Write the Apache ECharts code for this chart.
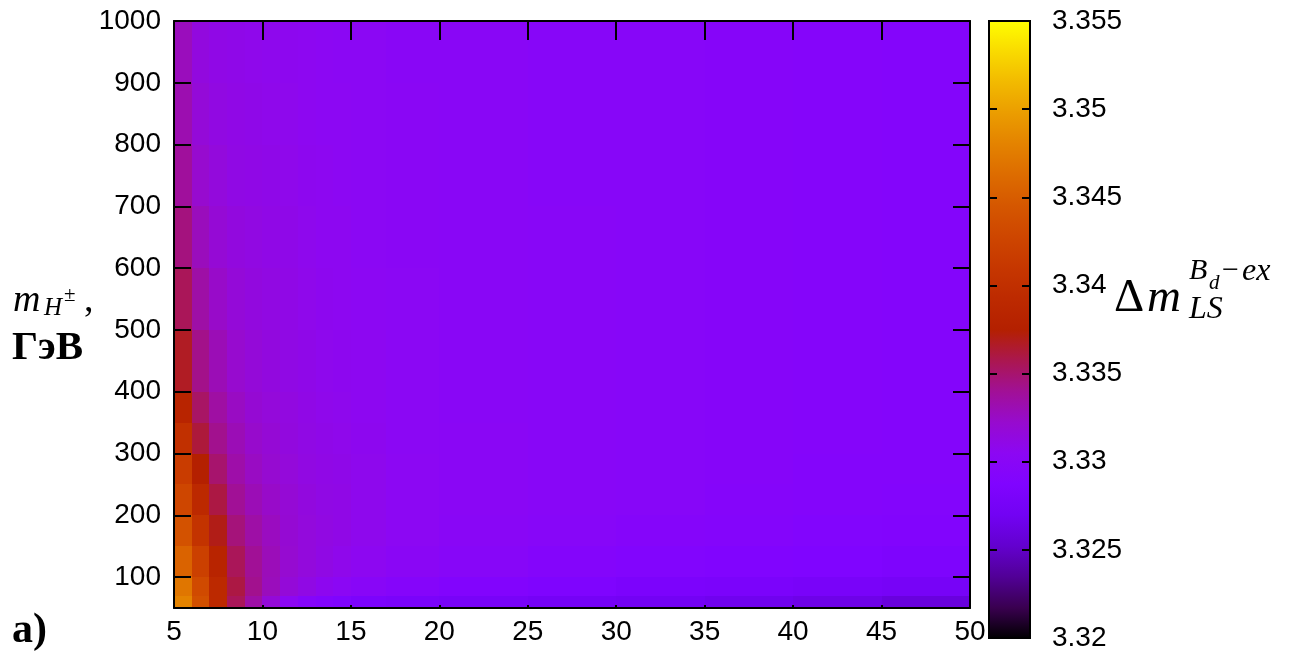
<!DOCTYPE html>
<html><head><meta charset="utf-8">
<script src="https://cdn.jsdelivr.net/npm/echarts@6/dist/echarts.min.js"></script>
<style>html,body{margin:0;padding:0;background:#fff}#c{width:1308px;height:656px}</style>
</head><body><div id="c"></div><script>
// cell edges (tan beta along x, charged Higgs mass along y)
const xEdges = [5,6,7,8,9,10,11,12,13,14,15,17,20,25,30,35,40,45,50];
const yEdges = [50,70,100,150,200,250,300,350,400,500,600,700,800,900,1000];
// one array per mass band (bottom to top), one value per x band
const row0050 = [3.3480,3.3438,3.3390,3.3355,3.3335,3.3318,3.3305,3.3295,3.3290,3.3286,3.3283,3.3280,3.3277,3.3274,3.3271,3.3268,3.3265,3.3260];
const row0070 = [3.3470,3.3432,3.3390,3.3360,3.3342,3.3328,3.3318,3.3312,3.3307,3.3303,3.3299,3.3295,3.3290,3.3286,3.3283,3.3281,3.3279,3.3276];
const row0100 = [3.3455,3.3420,3.3382,3.3355,3.3340,3.3329,3.3321,3.3316,3.3312,3.3309,3.3306,3.3302,3.3298,3.3294,3.3291,3.3289,3.3287,3.3285];
const row0150 = [3.3440,3.3405,3.3370,3.3347,3.3335,3.3327,3.3320,3.3316,3.3313,3.3311,3.3308,3.3305,3.3301,3.3298,3.3295,3.3293,3.3291,3.3290];
const row0200 = [3.3428,3.3390,3.3360,3.3340,3.3330,3.3324,3.3319,3.3315,3.3312,3.3311,3.3308,3.3305,3.3302,3.3299,3.3297,3.3295,3.3293,3.3292];
const row0250 = [3.3416,3.3375,3.3350,3.3334,3.3326,3.3321,3.3317,3.3313,3.3311,3.3310,3.3308,3.3305,3.3302,3.3299,3.3297,3.3296,3.3294,3.3293];
const row0300 = [3.3400,3.3362,3.3342,3.3330,3.3323,3.3319,3.3315,3.3312,3.3310,3.3309,3.3307,3.3304,3.3302,3.3299,3.3297,3.3296,3.3295,3.3294];
const row0350 = [3.3382,3.3352,3.3336,3.3326,3.3320,3.3317,3.3314,3.3311,3.3309,3.3308,3.3306,3.3304,3.3301,3.3299,3.3297,3.3296,3.3295,3.3294];
const row0400 = [3.3367,3.3343,3.3330,3.3322,3.3318,3.3315,3.3312,3.3310,3.3308,3.3307,3.3306,3.3303,3.3301,3.3299,3.3297,3.3296,3.3295,3.3294];
const row0500 = [3.3355,3.3335,3.3324,3.3318,3.3315,3.3313,3.3311,3.3309,3.3307,3.3306,3.3305,3.3303,3.3301,3.3299,3.3297,3.3296,3.3295,3.3294];
const row0600 = [3.3346,3.3328,3.3319,3.3315,3.3313,3.3311,3.3310,3.3308,3.3306,3.3306,3.3304,3.3302,3.3300,3.3299,3.3297,3.3296,3.3295,3.3294];
const row0700 = [3.3338,3.3322,3.3316,3.3312,3.3311,3.3310,3.3309,3.3307,3.3306,3.3305,3.3304,3.3302,3.3300,3.3298,3.3297,3.3296,3.3295,3.3294];
const row0800 = [3.3332,3.3318,3.3313,3.3311,3.3310,3.3309,3.3308,3.3306,3.3305,3.3305,3.3303,3.3302,3.3300,3.3298,3.3297,3.3296,3.3295,3.3294];
const row0900 = [3.3328,3.3315,3.3311,3.3310,3.3309,3.3308,3.3307,3.3306,3.3305,3.3304,3.3303,3.3301,3.3300,3.3298,3.3297,3.3296,3.3295,3.3294];
const rows = [row0050,row0070,row0100,row0150,row0200,row0250,row0300,row0350,row0400,row0500,row0600,row0700,row0800,row0900];

const xTicks = [5,10,15,20,25,30,35,40,45,50];
const yTicks = [100,200,300,400,500,600,700,800,900,1000];
const cbTicks = [3.32,3.325,3.33,3.335,3.34,3.345,3.35,3.355];
const cbLabels = ['3.32','3.325','3.33','3.335','3.34','3.345','3.35','3.355'];
const cbMin = 3.32, cbMax = 3.355;
// gnuplot rgbformulae 7,5,15 palette, evenly spaced stops
const palette = ['#000000','#39004F','#510096','#6301CE','#7202F3','#8004FF','#8C07F3','#970BCE','#A11096','#AB174F','#B42000','#BD2A00','#C63700','#CE4600','#D55700','#DD6C00','#E48300','#EB9D00','#F2BA00','#F9DB00','#FFFF00'];

const cells = [];
rows.forEach((r, j) => r.forEach((v, i) => {
  cells.push([xEdges[i], xEdges[i+1], yEdges[j], yEdges[j+1], v]);
}));

const tickFont = {fontSize: 28, color: '#000', fontFamily: 'Liberation Sans'};
const blackLine = {color: '#000', width: 2};

const chart = echarts.init(document.getElementById('c'), null, {renderer: 'canvas'});
chart.setOption({
  animation: false,
  backgroundColor: '#fff',
  grid: [
    {left: 174, top: 21, width: 796, height: 587},
    {left: 989, top: 21, width: 41, height: 617}
  ],
  xAxis: [
    {gridIndex: 0, type: 'value', position: 'bottom', min: 5, max: 50, interval: 5, z: 10,
     axisLine: {lineStyle: blackLine}, axisTick: {inside: true, length: 3, lineStyle: blackLine},
     axisLabel: Object.assign({margin: 10, formatter: v => String(v)}, tickFont), splitLine: {show: false}},
    {gridIndex: 0, type: 'value', position: 'top', min: 5, max: 50, interval: 5, z: 10,
     axisLine: {lineStyle: blackLine}, axisTick: {inside: true, length: 19, lineStyle: blackLine},
     axisLabel: {show: false}, splitLine: {show: false}},
    {gridIndex: 1, type: 'value', min: 0, max: 1, show: false}
  ],
  yAxis: [
    {gridIndex: 0, type: 'value', position: 'left', min: 50, max: 1000, z: 10,
     axisLine: {show: true, lineStyle: blackLine},
     axisTick: {inside: true, length: 17, lineStyle: blackLine, customValues: yTicks},
     axisLabel: Object.assign({margin: 13, customValues: yTicks, formatter: v => String(v)}, tickFont), splitLine: {show: false}},
    {gridIndex: 0, type: 'value', position: 'right', min: 50, max: 1000, z: 10,
     axisLine: {show: true, lineStyle: blackLine},
     axisTick: {inside: true, length: 17, lineStyle: blackLine, customValues: yTicks},
     axisLabel: {show: false}, splitLine: {show: false}},
    {gridIndex: 1, type: 'value', position: 'left', min: cbMin, max: cbMax, z: 10,
     axisLine: {show: false},
     axisTick: {inside: true, length: 8, lineStyle: blackLine, customValues: cbTicks},
     axisLabel: {show: false}, splitLine: {show: false}},
    {gridIndex: 1, type: 'value', position: 'right', min: cbMin, max: cbMax, z: 10,
     axisLine: {show: false},
     axisTick: {inside: true, length: 8, lineStyle: blackLine, customValues: cbTicks},
     axisLabel: Object.assign({margin: 22, customValues: cbTicks,
       formatter: v => { const k = cbTicks.findIndex(t => Math.abs(t - v) < 1e-9); return k >= 0 ? cbLabels[k] : ''; }}, tickFont),
     splitLine: {show: false}}
  ],
  visualMap: {show: false, type: 'continuous', seriesIndex: 0, dimension: 4, min: cbMin, max: cbMax,
    inRange: {color: palette}},
  series: [
    {type: 'custom', xAxisIndex: 0, yAxisIndex: 0, data: cells, encode: {x: [0, 1], y: [2, 3]},
     renderItem: (params, api) => {
       const p0 = api.coord([api.value(0), api.value(3)]);
       const p1 = api.coord([api.value(1), api.value(2)]);
       const x0 = Math.round(p0[0]), x1 = Math.round(p1[0]);
       const y0 = Math.round(p0[1]), y1 = Math.round(p1[1]);
       return {type: 'rect', shape: {x: x0, y: y0, width: x1 - x0, height: y1 - y0},
         style: {fill: api.visual('color')}};
     }},
    {type: 'custom', xAxisIndex: 2, yAxisIndex: 3, data: [[0, 1, cbMin, cbMax]], encode: {x: [0, 1], y: [2, 3]},
     renderItem: (params, api) => {
       const p0 = api.coord([api.value(0), api.value(3)]);
       const p1 = api.coord([api.value(1), api.value(2)]);
       const stops = palette.map((c, i) => ({offset: i / (palette.length - 1), color: c}));
       return {type: 'rect', shape: {x: p0[0], y: p0[1], width: p1[0] - p0[0], height: p1[1] - p0[1]},
         style: {fill: new echarts.graphic.LinearGradient(0, 1, 0, 0, stops), stroke: '#000', lineWidth: 2}};
     }}
  ],
  graphic: [
    {type: 'text', left: 13, top: 282, style: {text: 'm', font: 'italic 38px "Liberation Serif"', fill: '#000'}},
    {type: 'text', left: 44, top: 296, style: {text: 'H', font: 'italic 25px "Liberation Serif"', fill: '#000'}},
    {type: 'text', left: 64, top: 285, style: {text: '±', font: '21px "Liberation Serif"', fill: '#000'}},
    {type: 'text', left: 84, top: 282, style: {text: ',', font: '38px "Liberation Serif"', fill: '#000'}},
    {type: 'text', left: 12, top: 328, style: {text: 'ГэВ', font: 'bold 41px "Liberation Serif"', fill: '#000'}},
    {type: 'text', left: 12, top: 610, style: {text: 'a)', font: 'bold 42px "Liberation Serif"', fill: '#000'}},
    {type: 'text', left: 1114, top: 275, style: {text: 'Δ', font: '47px "Liberation Serif"', fill: '#000'}},
    {type: 'text', left: 1147, top: 275, style: {text: 'm', font: 'italic 47px "Liberation Serif"', fill: '#000'}},
    {type: 'text', left: 1189, top: 256, style: {text: 'B', font: 'italic 30px "Liberation Serif"', fill: '#000'}},
    {type: 'text', left: 1209, top: 273, style: {text: 'd', font: 'italic 21px "Liberation Serif"', fill: '#000'}},
    {type: 'text', left: 1222, top: 256, style: {text: '−', font: '30px "Liberation Serif"', fill: '#000'}},
    {type: 'text', left: 1242, top: 256, style: {text: 'ex', font: 'italic 32px "Liberation Serif"', fill: '#000'}},
    {type: 'text', left: 1189, top: 294, style: {text: 'LS', font: 'italic 32px "Liberation Serif"', fill: '#000'}}
  ]
});
</script></body></html>
